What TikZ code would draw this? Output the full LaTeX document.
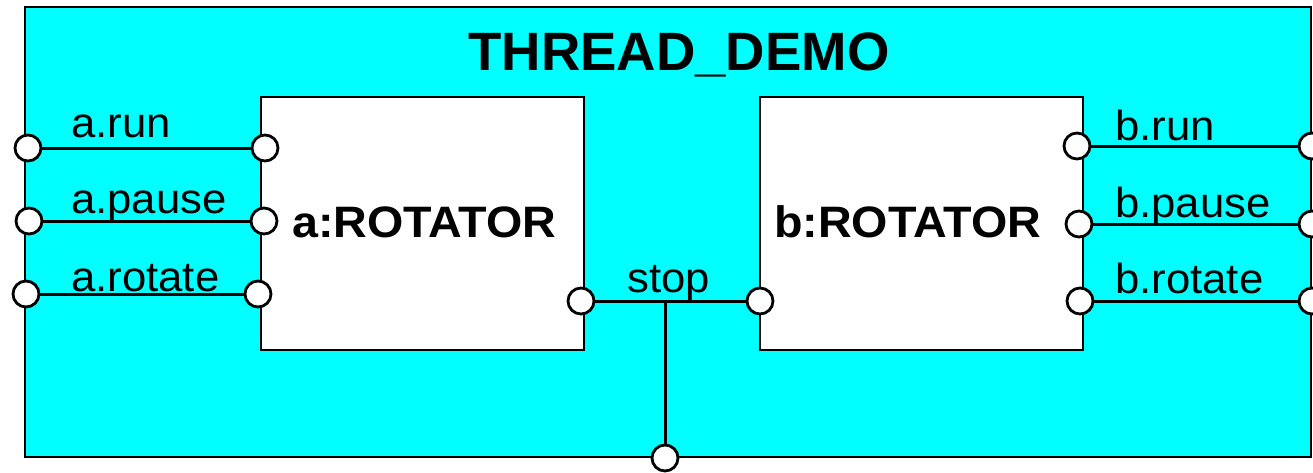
\documentclass[tikz,border=0pt]{standalone}
\usepackage{fontspec}
\setmainfont{Liberation Sans}
\definecolor{bgcyan}{RGB}{0,255,255}
\begin{document}
\begin{tikzpicture}[x=1pt,y=-1pt,
  port/.style={circle,draw=black,fill=white,line width=2.8pt,minimum size=26pt,inner sep=0pt},
  wire/.style={draw=black,line width=3pt},
  part/.style={draw=black,fill=white,line width=2.8pt},
  lbl/.style={anchor=base west,inner sep=0pt,xscale=1.04,font=\fontsize{42}{48}\selectfont},
  partlbl/.style={anchor=base west,inner sep=0pt,xscale=1.06,font=\fontsize{44}{50}\selectfont\bfseries},
  title/.style={anchor=base,inner sep=0pt,xscale=1.01,font=\fontsize{54}{60}\selectfont\bfseries}]
\useasboundingbox (0,0) rectangle (1313,472);
\fill[white] (0,0) rectangle (1313,472);
% outer component
\path[part,fill=bgcyan] (25,7) rectangle (1311,457);
\node[title] (ttl) at (679,70) {THREAD\_DEMO};
% parts
\path[part] (261,97) rectangle (584,350);
\path[part] (760,97) rectangle (1083,350);
\node[partlbl] (alab) at (292,237) {a:ROTATOR};
\node[partlbl] (blab) at (774,237) {b:ROTATOR};
% ports
\node[port] (oar) at (28,148) {};
\node[port] (oap) at (29,221) {};
\node[port] (oat) at (26,294) {};
\node[port] (iar) at (265,148) {};
\node[port] (iap) at (264,221) {};
\node[port] (iat) at (258,294) {};
\node[port] (ias) at (581,301) {};
\node[port] (ibs) at (760,301) {};
\node[port] (ibr) at (1077,146) {};
\node[port] (ibp) at (1079,224) {};
\node[port] (ibt) at (1080,301) {};
\node[port] (obr) at (1312,146) {};
\node[port] (obp) at (1312,224) {};
\node[port] (obt) at (1312,301) {};
\node[port] (ost) at (665,458) {};
\coordinate (jn) at (665,301);
% wires
\draw[wire] (oar) -- (iar);
\draw[wire] (oap) -- (iap);
\draw[wire] (oat) -- (iat);
\draw[wire] (ibr) -- (obr);
\draw[wire] (ibp) -- (obp);
\draw[wire] (ibt) -- (obt);
\draw[wire] (ias) -- (ibs);
\draw[wire] (jn) -- (ost);
% labels
\node[lbl] (lar) at (71,137) {a.run};
\node[lbl] (lap) at (71,213) {a.pause};
\node[lbl] (lat) at (71,291) {a.rotate};
\node[lbl] (lbr) at (1115,140) {b.run};
\node[lbl] (lbp) at (1115,217) {b.pause};
\node[lbl] (lbt) at (1115,293) {b.rotate};
\node[lbl] (lst) at (627,292) {stop};
\end{tikzpicture}
\end{document}
